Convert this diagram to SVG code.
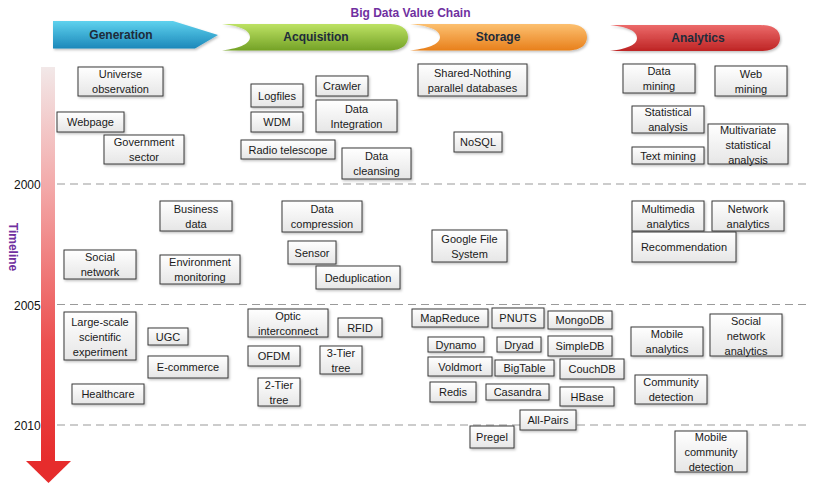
<svg xmlns="http://www.w3.org/2000/svg" width="824" height="494" viewBox="0 0 824 494">
<defs>
<linearGradient id="gBox" x1="0" y1="0" x2="0" y2="1"><stop offset="0" stop-color="#ffffff"/><stop offset="1" stop-color="#e6e6e6"/></linearGradient>
<linearGradient id="gGen" x1="0" y1="0" x2="0" y2="1"><stop offset="0" stop-color="#5fd2ee"/><stop offset="1" stop-color="#1b88ba"/></linearGradient>
<linearGradient id="gAcq" x1="0" y1="0" x2="0" y2="1"><stop offset="0" stop-color="#bde264"/><stop offset="1" stop-color="#74a226"/></linearGradient>
<linearGradient id="gSto" x1="0" y1="0" x2="0" y2="1"><stop offset="0" stop-color="#fcc070"/><stop offset="1" stop-color="#e8801c"/></linearGradient>
<linearGradient id="gAna" x1="0" y1="0" x2="0" y2="1"><stop offset="0" stop-color="#ec6a6a"/><stop offset="1" stop-color="#be2424"/></linearGradient>
<linearGradient id="gTime" x1="0" y1="0" x2="0" y2="1"><stop offset="0" stop-color="#f2e8e8"/><stop offset="0.3" stop-color="#f3aaaa"/><stop offset="0.7" stop-color="#ec5050"/><stop offset="1" stop-color="#e62c2c"/></linearGradient>
<filter id="sh" x="-10%" y="-10%" width="130%" height="140%"><feDropShadow dx="1.2" dy="1.5" stdDeviation="0.8" flood-color="#000" flood-opacity="0.25"/></filter>
<style>
.box{fill:url(#gBox);stroke:#3a3a3a;stroke-width:1;filter:url(#sh)}
.lbl{font-family:"Liberation Sans",Arial,sans-serif;font-size:11px;fill:#1a1a1a;text-anchor:middle}
.hdr{font-family:"Liberation Sans",Arial,sans-serif;font-size:12px;font-weight:bold;fill:#1e2b3a;text-anchor:middle}
.ttl{font-family:"Liberation Sans",Arial,sans-serif;font-size:12px;font-weight:bold;fill:#7030a0;text-anchor:middle}
.yr{font-family:"Liberation Sans",Arial,sans-serif;font-size:12px;fill:#111}
.dash{stroke:#9a9a9a;stroke-width:1.2;stroke-dasharray:8,5;fill:none}
</style>
</defs>
<rect width="824" height="494" fill="#ffffff"/>

<g id="title"><text class="ttl" x="410.5" y="17">Big Data Value Chain</text></g>

<g id="stage-generation">
<path d="M53,21 L173,21 L218,35 L195,48.5 L53,48.5 Z" fill="url(#gGen)" filter="url(#sh)"/>
<text class="hdr" x="121" y="39">Generation</text>
</g>
<g id="stage-acquisition">
<path d="M222,24 L388,24 C403,24 408,30 408,37 C408,44 403,50.5 388,50.5 L222,50.5 C242,48 250,43 250,37 C250,31 242,26 222,24 Z" fill="url(#gAcq)" filter="url(#sh)"/>
<text class="hdr" x="316" y="41">Acquisition</text>
</g>
<g id="stage-storage">
<path d="M410,24 L567,24 C582,24 587,30 587,37 C587,44 582,50.5 567,50.5 L410,50.5 C432,48 440,43 440,37 C440,31 432,26 410,24 Z" fill="url(#gSto)" filter="url(#sh)"/>
<text class="hdr" x="498" y="41">Storage</text>
</g>
<g id="stage-analytics">
<path d="M610,25 L760,25 C775,25 780,31 780,38 C780,45 775,51 760,51 L610,51 C630,48.5 637,44 637,38 C637,32 630,27 610,25 Z" fill="url(#gAna)" filter="url(#sh)"/>
<text class="hdr" x="698" y="42">Analytics</text>
</g>

<g id="timeline">
<rect x="41" y="67" width="14" height="395" fill="url(#gTime)"/>
<path d="M26,461 L71,461 L48.5,483 Z" fill="#e62c2c"/>
<text class="ttl" transform="translate(9,247) rotate(90)" x="0" y="0">Timeline</text>
<text class="yr" x="14" y="189">2000</text>
<text class="yr" x="14" y="310">2005</text>
<text class="yr" x="14" y="430">2010</text>
</g>

<g id="gridlines">
<line class="dash" x1="57" y1="184" x2="810" y2="184"/>
<line class="dash" x1="57" y1="304.5" x2="810" y2="304.5"/>
<line class="dash" x1="57" y1="425" x2="810" y2="425"/>
</g>
<g id="connectors"></g>

<!-- Generation -->
<g id="n-universe"><rect class="box" x="78" y="67" width="85" height="29"/><text class="lbl"><tspan x="120.5" y="78">Universe</tspan><tspan x="120.5" y="93">observation</tspan></text></g>
<g id="n-webpage"><rect class="box" x="57" y="112" width="67" height="20"/><text class="lbl" x="90.5" y="126">Webpage</text></g>
<g id="n-government"><rect class="box" x="104" y="135" width="80" height="29"/><text class="lbl"><tspan x="144" y="146">Government</tspan><tspan x="144" y="161">sector</tspan></text></g>
<g id="n-business"><rect class="box" x="160" y="201" width="72" height="30"/><text class="lbl"><tspan x="196" y="212.5">Business</tspan><tspan x="196" y="227.5">data</tspan></text></g>
<g id="n-social-network"><rect class="box" x="64" y="250" width="72" height="29"/><text class="lbl"><tspan x="100" y="261">Social</tspan><tspan x="100" y="276">network</tspan></text></g>
<g id="n-environment"><rect class="box" x="160" y="255" width="80" height="29"/><text class="lbl"><tspan x="200" y="266">Environment</tspan><tspan x="200" y="281">monitoring</tspan></text></g>
<g id="n-large-scale"><rect class="box" x="64" y="312" width="72" height="48"/><text class="lbl"><tspan x="100" y="325.5">Large-scale</tspan><tspan x="100" y="340.5">scientific</tspan><tspan x="100" y="355.5">experiment</tspan></text></g>
<g id="n-ugc"><rect class="box" x="148" y="328" width="40" height="17"/><text class="lbl" x="168" y="340.5">UGC</text></g>
<g id="n-ecommerce"><rect class="box" x="148" y="356" width="80" height="22"/><text class="lbl" x="188" y="371">E-commerce</text></g>
<g id="n-healthcare"><rect class="box" x="72" y="384" width="72" height="20"/><text class="lbl" x="108" y="398">Healthcare</text></g>

<!-- Acquisition -->
<g id="n-logfiles"><rect class="box" x="251" y="84" width="52" height="23"/><text class="lbl" x="277" y="99.5">Logfiles</text></g>
<g id="n-wdm"><rect class="box" x="251" y="112" width="52" height="20"/><text class="lbl" x="277" y="126">WDM</text></g>
<g id="n-crawler"><rect class="box" x="316" y="76" width="52" height="20"/><text class="lbl" x="342" y="90">Crawler</text></g>
<g id="n-data-integration"><rect class="box" x="316" y="100" width="81" height="32"/><text class="lbl"><tspan x="356.5" y="112.5">Data</tspan><tspan x="356.5" y="127.5">Integration</tspan></text></g>
<g id="n-radio-telescope"><rect class="box" x="241" y="140" width="94" height="19"/><text class="lbl" x="288" y="153.5">Radio telescope</text></g>
<g id="n-data-cleansing"><rect class="box" x="342" y="148" width="69" height="31"/><text class="lbl"><tspan x="376.5" y="160">Data</tspan><tspan x="376.5" y="175">cleansing</tspan></text></g>
<g id="n-data-compression"><rect class="box" x="282" y="201" width="80" height="31"/><text class="lbl"><tspan x="322" y="213">Data</tspan><tspan x="322" y="228">compression</tspan></text></g>
<g id="n-sensor"><rect class="box" x="288" y="241" width="48" height="23"/><text class="lbl" x="312" y="256.5">Sensor</text></g>
<g id="n-deduplication"><rect class="box" x="316" y="266" width="84" height="23"/><text class="lbl" x="358" y="281.5">Deduplication</text></g>
<g id="n-optic"><rect class="box" x="248" y="309" width="80" height="28"/><text class="lbl"><tspan x="288" y="319.5">Optic</tspan><tspan x="288" y="334.5">interconnect</tspan></text></g>
<g id="n-rfid"><rect class="box" x="338" y="318" width="44" height="19"/><text class="lbl" x="360" y="331.5">RFID</text></g>
<g id="n-ofdm"><rect class="box" x="248" y="346" width="52" height="20"/><text class="lbl" x="274" y="360">OFDM</text></g>
<g id="n-3-tier"><rect class="box" x="320" y="346" width="42" height="28"/><text class="lbl"><tspan x="341" y="356.5">3-Tier</tspan><tspan x="341" y="371.5">tree</tspan></text></g>
<g id="n-2-tier"><rect class="box" x="258" y="378" width="42" height="28"/><text class="lbl"><tspan x="279" y="388.5">2-Tier</tspan><tspan x="279" y="403.5">tree</tspan></text></g>

<!-- Storage -->
<g id="n-shared-nothing"><rect class="box" x="418" y="64" width="109" height="32"/><text class="lbl"><tspan x="472.5" y="76.5">Shared-Nothing</tspan><tspan x="472.5" y="91.5">parallel databases</tspan></text></g>
<g id="n-nosql"><rect class="box" x="454" y="132" width="48" height="20"/><text class="lbl" x="478" y="146">NoSQL</text></g>
<g id="n-gfs"><rect class="box" x="432" y="230" width="75" height="32"/><text class="lbl"><tspan x="469.5" y="242.5">Google File</tspan><tspan x="469.5" y="257.5">System</tspan></text></g>
<g id="n-mapreduce"><rect class="box" x="412" y="309" width="76" height="18"/><text class="lbl" x="450" y="322">MapReduce</text></g>
<g id="n-pnuts"><rect class="box" x="492" y="308" width="52" height="20"/><text class="lbl" x="518" y="322">PNUTS</text></g>
<g id="n-mongodb"><rect class="box" x="548" y="311" width="64" height="18"/><text class="lbl" x="580" y="324">MongoDB</text></g>
<g id="n-dynamo"><rect class="box" x="428" y="337" width="56" height="15"/><text class="lbl" x="456" y="348.5">Dynamo</text></g>
<g id="n-dryad"><rect class="box" x="497" y="337" width="44" height="15"/><text class="lbl" x="519" y="348.5">Dryad</text></g>
<g id="n-simpledb"><rect class="box" x="548" y="336" width="64" height="20"/><text class="lbl" x="580" y="350">SimpleDB</text></g>
<g id="n-voldmort"><rect class="box" x="428" y="357" width="64" height="19"/><text class="lbl" x="460" y="370.5">Voldmort</text></g>
<g id="n-bigtable"><rect class="box" x="495" y="360" width="59" height="16"/><text class="lbl" x="524.5" y="372">BigTable</text></g>
<g id="n-couchdb"><rect class="box" x="560" y="359" width="64" height="20"/><text class="lbl" x="592" y="373">CouchDB</text></g>
<g id="n-redis"><rect class="box" x="430" y="382" width="46" height="20"/><text class="lbl" x="453" y="396">Redis</text></g>
<g id="n-casandra"><rect class="box" x="486" y="384" width="63" height="16"/><text class="lbl" x="517.5" y="396">Casandra</text></g>
<g id="n-hbase"><rect class="box" x="560" y="387" width="54" height="19"/><text class="lbl" x="587" y="400.5">HBase</text></g>
<g id="n-all-pairs"><rect class="box" x="520" y="410" width="56" height="20"/><text class="lbl" x="548" y="424">All-Pairs</text></g>
<g id="n-pregel"><rect class="box" x="470" y="426" width="44" height="22"/><text class="lbl" x="492" y="441">Pregel</text></g>

<!-- Analytics -->
<g id="n-data-mining"><rect class="box" x="623" y="64" width="72" height="29"/><text class="lbl"><tspan x="659" y="75">Data</tspan><tspan x="659" y="90">mining</tspan></text></g>
<g id="n-web-mining"><rect class="box" x="715" y="66" width="72" height="30"/><text class="lbl"><tspan x="751" y="77.5">Web</tspan><tspan x="751" y="92.5">mining</tspan></text></g>
<g id="n-statistical"><rect class="box" x="632" y="106" width="72" height="27"/><text class="lbl"><tspan x="668" y="116">Statistical</tspan><tspan x="668" y="131">analysis</tspan></text></g>
<g id="n-multivariate"><rect class="box" x="708" y="124" width="80" height="40"/><text class="lbl"><tspan x="748" y="133.5">Multivariate</tspan><tspan x="748" y="148.5">statistical</tspan><tspan x="748" y="163.5">analysis</tspan></text></g>
<g id="n-text-mining"><rect class="box" x="632" y="147" width="72" height="17"/><text class="lbl" x="668" y="159.5">Text mining</text></g>
<g id="n-multimedia"><rect class="box" x="632" y="201" width="72" height="30"/><text class="lbl"><tspan x="668" y="212.5">Multimedia</tspan><tspan x="668" y="227.5">analytics</tspan></text></g>
<g id="n-network-analytics"><rect class="box" x="712" y="201" width="72" height="30"/><text class="lbl"><tspan x="748" y="212.5">Network</tspan><tspan x="748" y="227.5">analytics</tspan></text></g>
<g id="n-recommendation"><rect class="box" x="632" y="232" width="104" height="30"/><text class="lbl" x="684" y="251">Recommendation</text></g>
<g id="n-mobile-analytics"><rect class="box" x="631" y="327" width="72" height="29"/><text class="lbl"><tspan x="667" y="338">Mobile</tspan><tspan x="667" y="353">analytics</tspan></text></g>
<g id="n-social-network-analytics"><rect class="box" x="710" y="314" width="72" height="42"/><text class="lbl"><tspan x="746" y="324.5">Social</tspan><tspan x="746" y="339.5">network</tspan><tspan x="746" y="354.5">analytics</tspan></text></g>
<g id="n-community"><rect class="box" x="635" y="375" width="72" height="29"/><text class="lbl"><tspan x="671" y="386">Community</tspan><tspan x="671" y="401">detection</tspan></text></g>
<g id="n-mobile-community"><rect class="box" x="675" y="431" width="72" height="41"/><text class="lbl"><tspan x="711" y="441">Mobile</tspan><tspan x="711" y="456">community</tspan><tspan x="711" y="471">detection</tspan></text></g>
</svg>
